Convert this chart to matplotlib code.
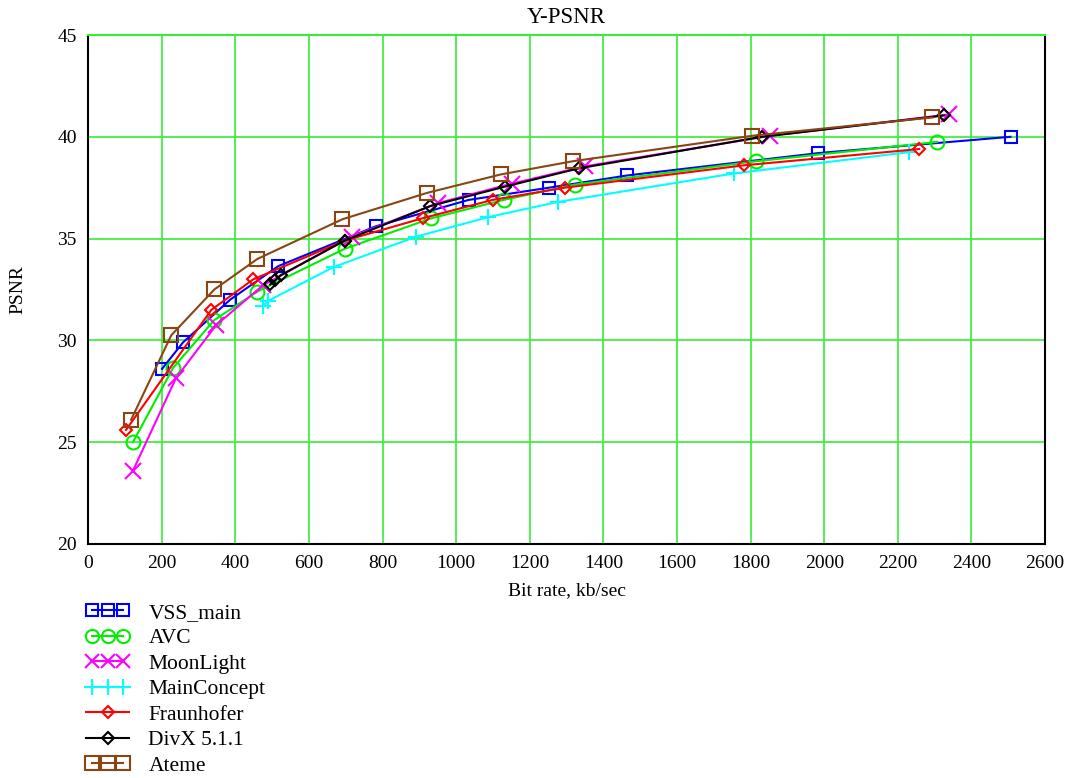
import matplotlib
matplotlib.use("Agg")
import matplotlib.pyplot as plt
from matplotlib.legend_handler import HandlerLine2D

plt.rcParams['font.family'] = ['Liberation Serif', 'DejaVu Serif']

# bit rate (kb/sec) and Y-PSNR (dB)
vss_x = [201, 258, 386, 517, 781, 1034, 1252, 1464, 1984, 2506]
vss_y = [28.6, 29.9, 32.0, 33.65, 35.6, 36.9, 37.5, 38.1, 39.2, 40.0]

avc_x = [122, 231, 343, 460, 697, 933, 1129, 1322, 1815, 2307]
avc_y = [25.0, 28.65, 31.0, 32.4, 34.5, 36.0, 36.9, 37.65, 38.8, 39.75]

moon_x = [122, 239, 348, 475, 716, 952, 1151, 1350, 1853, 2340]
moon_y = [23.6, 28.15, 30.75, 32.7, 35.1, 36.75, 37.7, 38.55, 40.05, 41.1]

mc_x = [476, 490, 667, 892, 1086, 1276, 1755, 2231]
mc_y = [31.7, 31.95, 33.6, 35.1, 36.05, 36.8, 38.2, 39.25]

fr_x = [103, 335, 449, 697, 909, 1099, 1295, 1782, 2258]
fr_y = [25.6, 31.5, 33.0, 34.9, 36.0, 36.9, 37.5, 38.6, 39.4]

divx_x = [495, 509, 523, 697, 930, 1132, 1333, 1831, 2326]
divx_y = [32.75, 32.95, 33.2, 34.9, 36.6, 37.55, 38.45, 40.0, 41.05]

ateme_x = [117, 226, 343, 460, 691, 922, 1121, 1317, 1804, 2294]
ateme_y = [26.1, 30.25, 32.5, 34.0, 35.95, 37.25, 38.15, 38.8, 40.05, 40.95]

fig = plt.figure(figsize=(10.75, 7.78), dpi=100)
ax = fig.add_axes([0.0819, 0.3008, 0.8903, 0.6542])

lines = []
lines.append(ax.plot(vss_x, vss_y, color='#0000ff', lw=1.5, marker='s', ms=9,
                     mfc='none', mew=1.5, label='VSS_main')[0])
lines.append(ax.plot(avc_x, avc_y, color='#00ee00', lw=1.5, marker='o', ms=10,
                     mfc='none', mew=1.5, label='AVC')[0])
lines.append(ax.plot(moon_x, moon_y, color='#ff00ff', lw=1.5, marker='x', ms=11,
                     mew=1.5, label='MoonLight')[0])
lines.append(ax.plot(mc_x, mc_y, color='#00ffff', lw=1.5, marker='+', ms=12,
                     mew=1.5, label='MainConcept')[0])
lines.append(ax.plot(fr_x, fr_y, color='#ff0000', lw=1.5, marker='D', ms=6,
                     mfc='none', mew=1.5, label='Fraunhofer')[0])
lines.append(ax.plot(divx_x, divx_y, color='#000000', lw=1.5, marker='D', ms=6,
                     mfc='none', mew=1.5, label='DivX 5.1.1')[0])
lines.append(ax.plot(ateme_x, ateme_y, color='#8b4513', lw=1.5, marker='s', ms=10,
                     mfc='none', mew=1.5, label='Ateme')[0])

ax.set_xlim(0, 2600)
ax.set_ylim(20, 45)
ax.set_xticks(range(0, 2601, 200))
ax.set_yticks(range(20, 46, 5))
ax.grid(True, color='#33ee33', lw=1.2)
ax.set_axisbelow(True)
ax.tick_params(length=0, labelsize=14, pad=8)
for s in ax.spines.values():
    s.set_color('black')
    s.set_linewidth(1.5)
ax.spines['top'].set_color('#33ee33')

ax.set_title('Y-PSNR', fontsize=16.5, pad=9)
ax.set_xlabel('Bit rate, kb/sec', fontsize=14, labelpad=7)
ax.set_ylabel('PSNR', fontsize=14, labelpad=22)

# Fraunhofer and DivX show a single marker in the legend
hmap = {lines[4]: HandlerLine2D(numpoints=1), lines[5]: HandlerLine2D(numpoints=1)}
fig.legend(handles=lines, loc='upper left', bbox_to_anchor=(0.062, 0.25),
           frameon=False, fontsize=15.5, numpoints=3, handlelength=2.0,
           labelspacing=0.25, handletextpad=0.9, handler_map=hmap,
           markerscale=0.95)

fig.savefig('out.png', dpi=100)
